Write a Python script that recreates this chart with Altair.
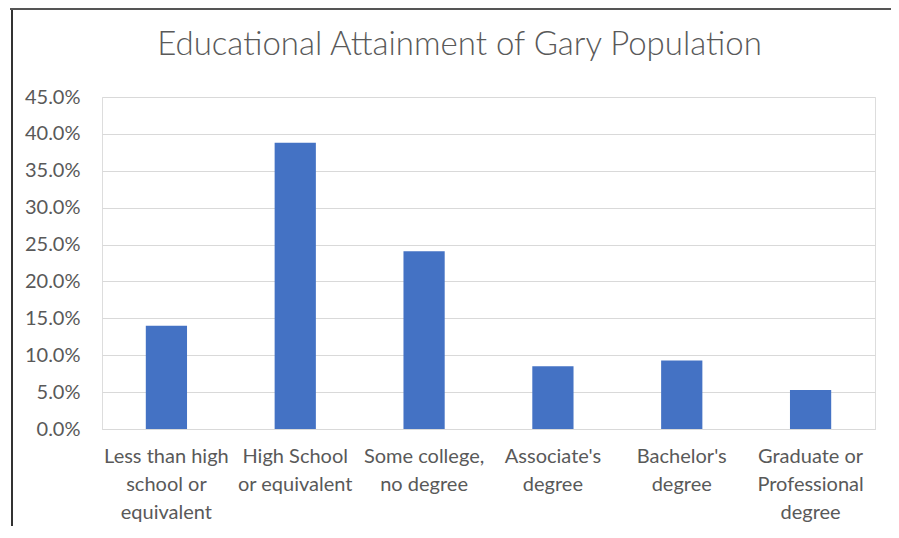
import altair as alt
import pandas as pd

categories = [
    "Less than high\nschool or\nequivalent",
    "High School\nor equivalent",
    "Some college,\nno degree",
    "Associate's\ndegree",
    "Bachelor's\ndegree",
    "Graduate or\nProfessional\ndegree",
]
shares = [0.140, 0.388, 0.241, 0.085, 0.093, 0.053]
y_ticks = [0.0, 0.05, 0.10, 0.15, 0.20, 0.25, 0.30, 0.35, 0.40, 0.45]

df = pd.DataFrame({"category": categories, "share": shares})

W, H = 773, 332
FONT = "Lato"
GREY = "#595959"

bars = alt.Chart(df).mark_bar(color="#4472C4", width={"band": 0.32}).encode(
    x=alt.X(
        "category:N",
        sort=categories,
        title=None,
        scale=alt.Scale(paddingInner=0, paddingOuter=0),
        axis=alt.Axis(
            labelAngle=0,
            labelExpr="split(datum.label, '\\n')",
            labelFont=FONT,
            labelFontSize=20,
            labelColor=GREY,
            labelLineHeight=28,
            labelPadding=17,
            labelBaseline="top",
            ticks=False,
            domainColor="#D9D9D9",
            domainWidth=1,
            grid=False,
        ),
    ),
    y=alt.Y(
        "share:Q",
        title=None,
        scale=alt.Scale(domain=[0, 0.45], nice=False),
        axis=alt.Axis(
            values=y_ticks,
            format=".1%",
            labelFont=FONT,
            labelFontSize=20,
            labelColor=GREY,
            labelPadding=22,
            ticks=False,
            domain=False,
            gridColor="#D9D9D9",
            gridWidth=1,
        ),
    ),
)

frame_left = alt.Chart(df).mark_rule(color="#333333", strokeWidth=1.5).encode(
    x=alt.value(-90), y=alt.value(-92), y2=alt.value(H + 120)
)
frame_top = alt.Chart(df).mark_rule(color="#555555", strokeWidth=2).encode(
    x=alt.value(-92), x2=alt.value(W + 40), y=alt.value(-88)
)

chart = (
    alt.layer(bars, frame_left, frame_top)
    .properties(
        width=W,
        height=H,
        autosize=alt.AutoSizeParams(type="none"),
        padding={"left": 94, "top": 89, "right": 16, "bottom": 97},
        title=alt.TitleParams(
            "Educational Attainment of Gary Population",
            font=FONT,
            fontSize=33,
            fontWeight=300,
            color=GREY,
            anchor="middle",
            dx=-29,
            offset=-58,
        ),
    )
    .configure_view(stroke=None)
    .configure(background="white")
)

chart.save("out.html", embed_options={"renderer": "svg", "actions": False})
